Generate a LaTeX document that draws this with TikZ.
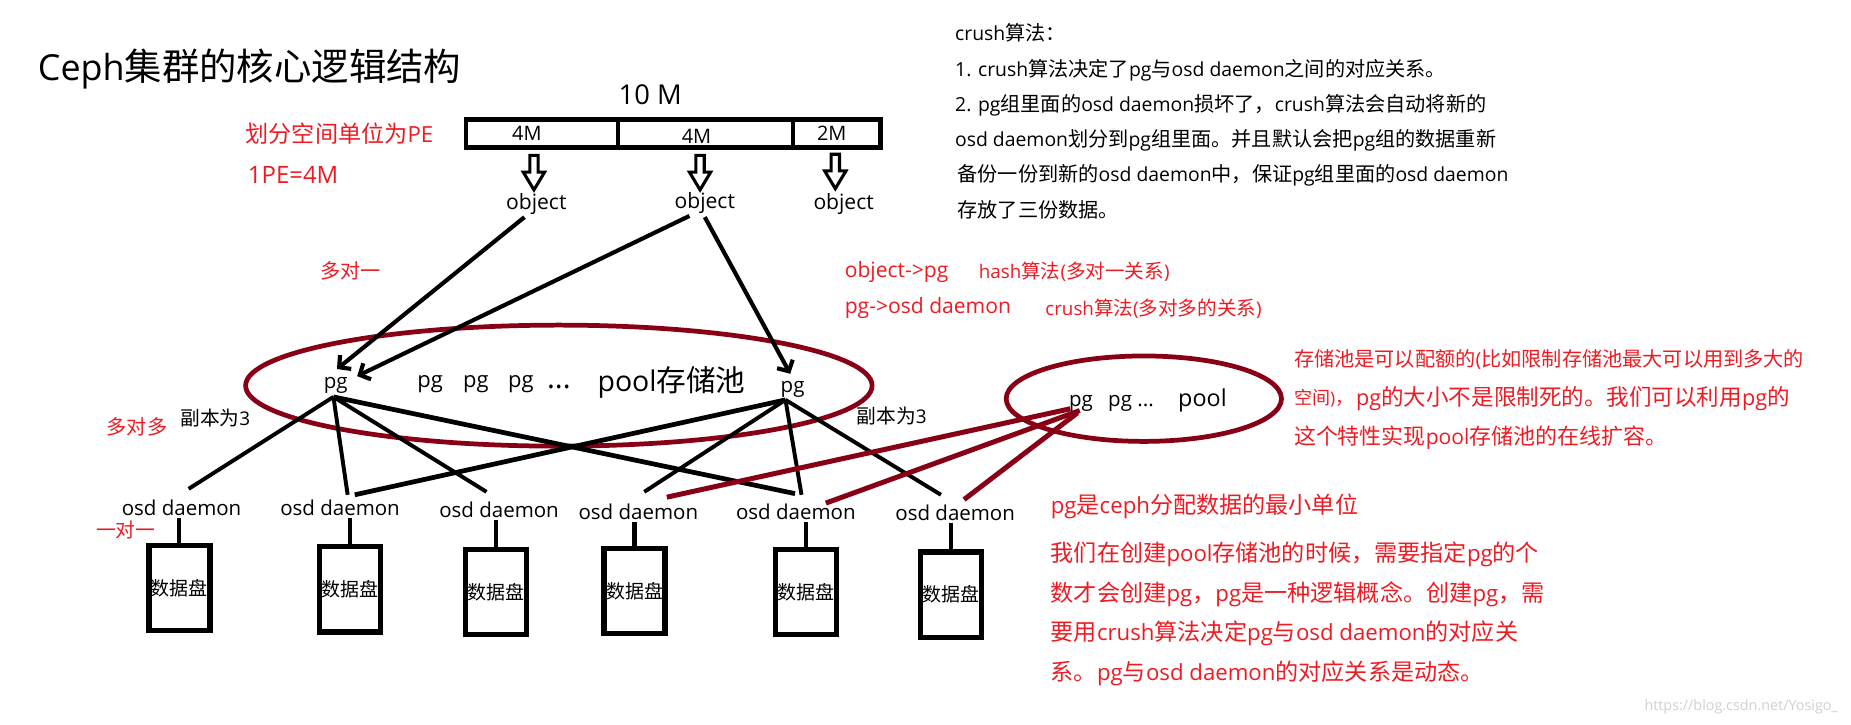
\documentclass[tikz,border=0pt]{standalone}
\usepackage{fontspec}
\setmainfont{Open Sans}[Scale=0.96]
\newfontfamily\latf{Open Sans}[Scale=0.96]
\newfontfamily\cjkf{Noto Sans CJK SC}
\usetikzlibrary{arrows.meta}
\definecolor{pred}{HTML}{ED1C24}
\definecolor{dred}{HTML}{880015}
\newcommand\myfs[1]{\fontsize{#1}{#1}\selectfont}
% automatic switch between Latin and CJK fonts
\XeTeXinterchartokenstate=1
\newXeTeXintercharclass\CJKcls
\newcount\cjkc
\def\setcjkrange#1#2{\cjkc=#1\relax\loop\XeTeXcharclass\cjkc=\CJKcls\relax\ifnum\cjkc<#2\relax\advance\cjkc by 1\relax\repeat}
\setcjkrange{"3000}{"303F}
\setcjkrange{"4E00}{"9FFF}
\setcjkrange{"FF00}{"FFEF}
\XeTeXinterchartoks 0 \CJKcls = {\cjkf}
\XeTeXinterchartoks 4095 \CJKcls = {\cjkf}
\XeTeXinterchartoks \CJKcls 0 = {\latf}
\XeTeXinterchartoks 4095 0 = {\latf}
\begin{document}
\begin{tikzpicture}[x=1pt,y=-1pt,
  txt/.style={inner sep=0pt, outer sep=0pt},
  lt/.style={txt, anchor=west},
  rd/.style={txt, anchor=west, text=pred},
  seg/.style={draw, line width=3.5pt, minimum height=23.6pt, inner sep=0pt, outer sep=0pt},
  disk/.style={draw, line width=4.5pt, minimum width=51.5pt, minimum height=72pt, inner sep=0pt, font=\myfs{16}},
  osd/.style={txt, font=\myfs{18}},
  blk/.style={line width=3.3pt},
  arr/.style={line width=3.5pt, -{Straight Barb[length=7pt,width=15pt]}},
  rl/.style={dred, line width=4.2pt},
  poolring/.style={dred, line width=4pt},
  stem/.style={line width=3.5pt, shorten >=2pt}]
\useasboundingbox (0,0) rectangle (1560,611);
\fill[white] (0,0) rectangle (1560,611);

% title
\node[lt, font=\myfs{31.5}] (title) at (32,58) {Ceph集群的核心逻辑结构};

% bar
\node[txt, font=\myfs{24}] (tenm) at (548,80) {10 M};
\node[seg, minimum width=128pt] (seg1) at (457,112.5) {};
\node[seg, minimum width=147pt] (seg2) at (594.5,112.5) {};
\node[seg, minimum width=74pt] (seg3) at (705,112.5) {};
\node[txt, font=\myfs{17.5}] (l1) at (444,112) {4M};
\node[txt, font=\myfs{17.5}] (l2) at (587,115) {4M};
\node[txt, font=\myfs{17.5}] (l3) at (701,112) {2M};
\foreach \c/\t in {450/131, 590/131, 704/130}{
  \draw[line width=2.6pt, fill=white, line join=miter]
    (\c-3.5,\t) -- (\c+3.5,\t) -- (\c+3.5,\t+14) -- (\c+9,\t+14) -- (\c,\t+29)
    -- (\c-9,\t+14) -- (\c-3.5,\t+14) -- cycle;}
\node[txt, font=\myfs{18.5}] (obj1) at (452,172) {object};
\node[txt, font=\myfs{18.5}] (obj2) at (594,171) {object};
\node[txt, font=\myfs{18.5}] (obj3) at (711,172) {object};

% red notes left
\node[rd, font=\myfs{19.5}] (pe1) at (207,113) {划分空间单位为PE};
\node[rd, font=\myfs{21}] (pe2) at (209,147) {1PE=4M};

% black notes top right
\node[lt, font=\myfs{17}] (c0) at (805,28) {crush算法：};
\node[lt, font=\myfs{17}] (c1) at (805,59) {1. crush算法决定了pg与osd daemon之间的对应关系。};
\node[lt, font=\myfs{17}] (c2) at (805,88.5) {2. pg组里面的osd daemon损坏了，crush算法会自动将新的};
\node[lt, font=\myfs{17}] (c3) at (805,118) {osd daemon划分到pg组里面。并且默认会把pg组的数据重新};
\node[lt, font=\myfs{17}] (c4) at (807,147.5) {备份一份到新的osd daemon中，保证pg组里面的osd daemon};
\node[lt, font=\myfs{17}] (c5) at (807,177) {存放了三份数据。};

% red mapping notes
\node[rd, font=\myfs{17}] (m1) at (270,228) {多对一};
\node[rd, font=\myfs{18.5}] (h1) at (712,229) {object-{}>pg};
\node[rd, font=\myfs{16.5}] (h2) at (825,229) {hash算法(多对一关系)};
\node[rd, font=\myfs{18.5}] (h3) at (712,260) {pg-{}>osd daemon};
\node[rd, font=\myfs{16.5}] (h4) at (881,260) {crush算法(多对多的关系)};

% big pool
\draw[poolring] (471,325) ellipse [x radius=264pt, y radius=51pt];
\node[txt, font=\myfs{18}] (pg1) at (283,325) {pg};
\node[txt, font=\myfs{18}] (pg2) at (668,328) {pg};
\node[txt, font=\myfs{19.3}] (pga) at (362.5,324) {pg};
\node[txt, font=\myfs{19.3}] (pgb) at (401,324) {pg};
\node[txt, font=\myfs{19.3}] (pgc) at (439,324) {pg};
\node[txt, font=\myfs{26}] (dots) at (471,326) {...};
\node[lt, font=\myfs{25}] (poolname) at (503.6,322) {pool存储池};

% small pool
\draw[poolring] (964,336) ellipse [x radius=116pt, y radius=36pt];
\node[txt, font=\myfs{18}] (spg1) at (911,340) {pg};
\node[lt, font=\myfs{18}] (spg2) at (934,340) {pg ...};
\node[lt, font=\myfs{20.5}] (spool) at (993,337.6) {pool};

% labels around
\node[lt, font=\myfs{16.6}] (r1) at (152,352.5) {副本为3};
\node[lt, font=\myfs{16.6}] (r2) at (722,351) {副本为3};
\node[rd, font=\myfs{17}] (m2) at (90,359.5) {多对多};
\node[rd, font=\myfs{16.7}] (m3) at (81,447) {一对一};

% osd daemons
\node[osd] (osd1) at (153,428) {osd daemon};
\node[osd] (osd2) at (286.6,428) {osd daemon};
\node[osd] (osd3) at (420.6,430) {osd daemon};
\node[osd] (osd4) at (538,431.5) {osd daemon};
\node[osd] (osd5) at (670.7,431) {osd daemon};
\node[osd] (osd6) at (805,432.5) {osd daemon};

% disks
\node[disk] (d1) at (151.2,495.6) {数据盘};
\node[disk] (d2) at (294.9,496.5) {数据盘};
\node[disk] (d3) at (418,498.9) {数据盘};
\node[disk] (d4) at (534.8,498.1) {数据盘};
\node[disk] (d5) at (679.5,498.9) {数据盘};
\node[disk] (d6) at (801.5,501.2) {数据盘};
\foreach \i in {1,...,6}{\draw[stem] (d\i.north) -- (d\i.north |- osd\i.south);}

% object -> pg arrows
\draw[arr] ([xshift=-10pt,yshift=-11pt]obj1.center) -- ([xshift=1pt,yshift=14pt]pg1.center);
\draw[arr] ([xshift=-13pt,yshift=-11pt]obj2.center) -- ([xshift=18pt,yshift=8pt]pg1.center);
\draw[arr] ([yshift=-12pt]obj2.center) -- ([xshift=-2pt,yshift=13pt]pg2.center);

% pg -> osd
\draw[blk] ([xshift=-2pt,yshift=-9.5pt]pg1.center) -- ([xshift=6pt,yshift=16pt]osd1.center);
\draw[blk] ([xshift=-2pt,yshift=-9.5pt]pg1.center) -- ([xshift=6.4pt,yshift=11pt]osd2.center);
\draw[blk] ([xshift=-2pt,yshift=-9.5pt]pg1.center) -- ([xshift=-10.6pt,yshift=15.5pt]osd3.center);
\draw[blk, line width=4pt] ([xshift=-2pt,yshift=-9.5pt]pg1.center) -- ([xshift=-0.7pt,yshift=15pt]osd5.center);
\draw[blk, line width=4pt] ([xshift=-6pt,yshift=-9pt]pg2.center) -- ([xshift=12.4pt,yshift=11pt]osd2.center);
\draw[blk] ([xshift=-6pt,yshift=-9pt]pg2.center) -- ([xshift=5pt,yshift=17pt]osd4.center);
\draw[blk] ([xshift=-6pt,yshift=-9pt]pg2.center) -- ([xshift=4.8pt,yshift=14pt]osd5.center);
\draw[blk] ([xshift=-6pt,yshift=-9pt]pg2.center) -- ([xshift=-12pt,yshift=15.5pt]osd6.center);

% osd -> small pool
\draw[rl] ([xshift=24pt,yshift=12.5pt]osd4.center) -- ([xshift=-9pt,yshift=-4.5pt]spg1.center);
\draw[rl] ([xshift=25.3pt,yshift=7pt]osd5.center) -- ([xshift=-1pt,yshift=-6pt]spg1.center);
\draw[rl] ([xshift=7.5pt,yshift=11.5pt]osd6.center) -- ([xshift=-3pt,yshift=-8pt]spg1.center);

% red notes right
\node[rd, font=\myfs{17}] (q1) at (1090.6,303.4) {存储池是可以配额的(比如限制存储池最大可以用到多大的};
\node[rd, font=\myfs{15.2}] (q2a) at (1090.6,335.7) {空间)，};
\node[rd, font=\myfs{19}] (q2b) at (1143,335.7) {pg的大小不是限制死的。我们可以利用pg的};
\node[rd, font=\myfs{18.5}] (q3) at (1090.6,369) {这个特性实现pool存储池的在线扩容。};

\node[rd, font=\myfs{19.5}] (n1) at (885.6,427) {pg是ceph分配数据的最小单位};
\node[rd, font=\myfs{19.5}] (n2) at (885.6,467.6) {我们在创建pool存储池的时候，需要指定pg的个};
\node[rd, font=\myfs{19.5}] (n3) at (885.6,500.5) {数才会创建pg，pg是一种逻辑概念。创建pg，需};
\node[rd, font=\myfs{19.5}] (n4) at (885.6,533.8) {要用crush算法决定pg与osd daemon的对应关};
\node[rd, font=\myfs{19.5}] (n5) at (885.6,567.5) {系。pg与osd daemon的对应关系是动态。};

% watermark
\node[txt, anchor=east, text=black!18, font=\myfs{12.6}] (wm) at (1549,596) {https://blog.csdn.net/Yosigo\_};
\end{tikzpicture}
\end{document}
